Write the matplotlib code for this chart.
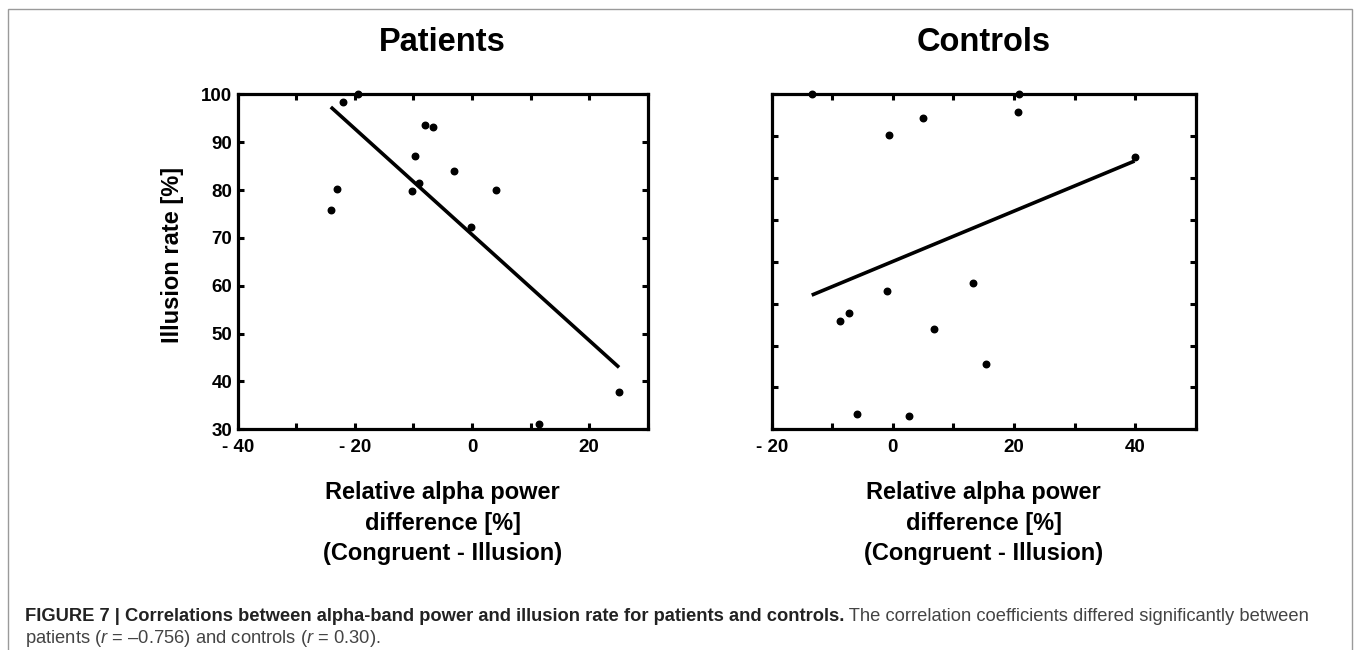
#!/usr/bin/env python3
"""Figure 7: alpha-band power difference vs. illusion rate, patients and controls.

Run: python3 plot.py  -> out.png
"""

from __future__ import annotations

import matplotlib

matplotlib.use("Agg")

import matplotlib.pyplot as plt
import numpy as np
from matplotlib.patches import Rectangle
from matplotlib.ticker import MultipleLocator

# --- data -------------------------------------------------------------------
patients_diff = [-22.0, -19.4, -23.1, -24.1, -8.1, -6.6, -9.7, -9.1, -10.3,
                 -3.1, -0.1, 4.1, 11.5, 25.1]
patients_rate = [98.3, 100.0, 80.3, 75.8, 93.5, 93.1, 87.2, 81.4, 79.8,
                 84.0, 72.3, 80.1, 31.2, 37.7]

controls_diff = [-13.4, 5.0, -0.7, 20.6, 20.9, 39.9, 13.2, -1.0, -7.2, -8.7,
                 6.8, 15.3, -6.0, 2.6]
controls_rate = [100.0, 94.3, 90.3, 95.8, 100.0, 85.1, 55.0, 53.1, 47.8, 45.9,
                 44.0, 35.6, 23.6, 23.3]

patients_xticks = [-40, -20, 0, 20]
controls_xticks = [-20, 0, 20, 40]
patients_yticks = [30, 40, 50, 60, 70, 80, 90, 100]

XLABEL = "Relative alpha power\ndifference [%]\n(Congruent - Illusion)"
YLABEL = "Illusion rate [%]"

CAPTION_BOLD = ("FIGURE 7 | Correlations between alpha-band power and illusion "
                "rate for patients and controls.")
CAPTION_REST = " The correlation coefficients differed significantly between"
CAPTION_LINE2 = r"patients ($r$ = –0.756) and controls ($r$ = 0.30)."

FONT = "Liberation Sans"


def tick_text(v: float) -> str:
    return f"- {abs(v):g}" if v < 0 else f"{v:g}"


def style_axes(ax, xlim, ylim, xticks, yticks=None) -> None:
    ax.set_xlim(*xlim)
    ax.set_ylim(*ylim)
    for side in ax.spines.values():
        side.set_linewidth(2.3)
    ax.xaxis.set_minor_locator(MultipleLocator(10))
    ax.yaxis.set_minor_locator(MultipleLocator(10))
    ax.set_xticks(xticks)
    ax.set_xticklabels([tick_text(v) for v in xticks])
    if yticks is not None:
        ax.set_yticks(yticks)
        ax.set_yticklabels([tick_text(v) for v in yticks])
    else:
        ax.set_yticks([])
    ax.tick_params(which="both", direction="in", length=4, width=2.2,
                   top=True, right=True)
    ax.tick_params(axis="x", pad=7, labelsize=13.5)
    ax.tick_params(axis="y", pad=4, labelsize=13.5)
    for lbl in ax.get_xticklabels() + ax.get_yticklabels():
        lbl.set_fontweight("bold")


def panel(ax, xs, ys, title) -> None:
    xs = np.asarray(xs)
    ys = np.asarray(ys)
    slope, icpt = np.polyfit(xs, ys, 1)
    fit_x = np.array([xs.min(), xs.max()])
    ax.plot(fit_x, slope * fit_x + icpt, color="black", lw=2.6,
            solid_capstyle="butt", zorder=2)
    ax.scatter(xs, ys, s=22, color="black", zorder=3, clip_on=False)
    ax.text(0.5, 1.155, title, transform=ax.transAxes, ha="center",
            va="center", fontsize=23.5, fontweight="bold")
    ax.text(0.5, -0.28, XLABEL, transform=ax.transAxes, ha="center",
            va="center", fontsize=17, fontweight="bold", linespacing=1.42)


def main() -> None:
    plt.rcParams["font.family"] = [FONT, "DejaVu Sans"]
    plt.rcParams["mathtext.fontset"] = "custom"
    plt.rcParams["mathtext.rm"] = FONT
    plt.rcParams["mathtext.it"] = f"{FONT}:italic"

    fig = plt.figure(figsize=(13.58, 6.5), dpi=100)

    # thin grey frame of the journal figure box (bottom edge runs off the page)
    fig.patches.append(Rectangle((8 / 1358, -0.1), 1344 / 1358, 1.1 - 9 / 650,
                                 transform=fig.transFigure, fill=False,
                                 edgecolor="#9a9a9a", lw=1.0))

    ax1 = fig.add_axes([0.175, 0.3395, 0.302, 0.5154])
    ax2 = fig.add_axes([0.5683, 0.3395, 0.3122, 0.5154])

    panel(ax1, patients_diff, patients_rate, "Patients")
    style_axes(ax1, (-40, 30), (30, 100), patients_xticks, patients_yticks)
    ax1.text(-0.158, 0.52, YLABEL, transform=ax1.transAxes, rotation=90,
             ha="center", va="center", fontsize=17, fontweight="bold")

    panel(ax2, controls_diff, controls_rate, "Controls")
    style_axes(ax2, (-20, 50), (20, 100), controls_xticks)
    ax2.yaxis.set_minor_locator(MultipleLocator(10))

    # caption: bold lead-in followed by regular text on the same line
    bold = fig.text(25 / 1358, 1 - 621 / 650, CAPTION_BOLD, fontsize=13.2,
                    fontweight="bold", color="#222222", va="baseline")
    fig.canvas.draw()
    ax1.annotate(CAPTION_REST, xy=(1, 0), xycoords=bold, va="bottom",
                 fontsize=13.2, color="#444444", annotation_clip=False)
    fig.text(25 / 1358, 1 - 643 / 650, CAPTION_LINE2, fontsize=13.2,
             color="#444444", va="baseline")

    fig.savefig("out.png", dpi=100)
    plt.close(fig)


if __name__ == "__main__":
    main()
